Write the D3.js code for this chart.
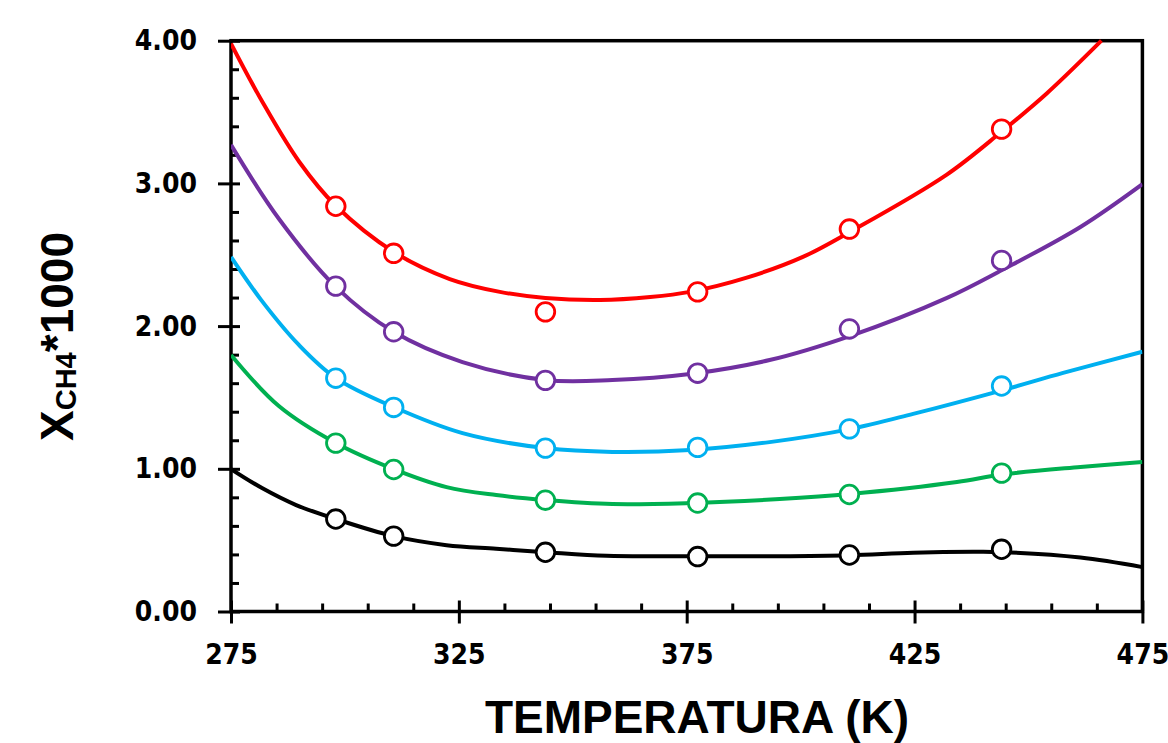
<!DOCTYPE html>
<html>
<head>
<meta charset="utf-8">
<script src="https://cdn.jsdelivr.net/npm/d3@7"></script>
<style>
  html, body { margin: 0; padding: 0; background: #fff; }
  svg { display: block; }
  .tick text { font-family: 'DejaVu Sans Condensed', 'DejaVu Sans', sans-serif; font-stretch: condensed; font-weight: bold; font-size: 28px; fill: #000; }
</style>
</head>
<body>
<svg id="chart" width="1168" height="743"></svg>
<script>
// ---- data ----
const xMajorTicks = [275, 325, 375, 425, 475];
const yMajorTicks = [0, 1, 2, 3, 4];
const pointTemps = [298, 310.7, 344, 377.4, 410.7, 444.1];

const redPoints    = [2.84, 2.51, 2.10, 2.24, 2.68, 3.38];
const purplePoints = [2.28, 1.96, 1.62, 1.67, 1.98, 2.46];
const cyanPoints   = [1.635, 1.43, 1.145, 1.15, 1.28, 1.58];
const greenPoints  = [1.18, 0.995, 0.78, 0.76, 0.82, 0.97];
const blackPoints  = [0.648, 0.528, 0.415, 0.385, 0.396, 0.436];

const redCurve = [[275,3.98],[282,3.565],[290,3.15],[298,2.843],[310.7,2.52],[323,2.33],[334,2.24],[344,2.197],[356,2.183],[367,2.204],[375.7,2.24],[388,2.338],[400.5,2.485],[410.8,2.66],[432,3.06],[444,3.36],[454,3.63],[466,4.0]];
const purpleCurve = [[275,3.27],[285.5,2.752],[298,2.275],[310.7,1.96],[325.8,1.748],[344,1.622],[358.7,1.622],[375.7,1.664],[393.2,1.762],[410.8,1.93],[432,2.196],[444.2,2.393],[461.4,2.695],[475,2.995]];
const cyanCurve = [[275,2.485],[281.6,2.184],[289.9,1.868],[298,1.636],[310.7,1.433],[325.8,1.25],[344,1.145],[358.7,1.118],[375.7,1.131],[393.2,1.187],[410.8,1.278],[424.7,1.385],[444.2,1.55],[457.6,1.672],[475,1.82]];
const greenCurve = [[275,1.798],[285.5,1.44],[298,1.181],[310.7,0.998],[322.3,0.872],[333.2,0.816],[344,0.781],[358.7,0.753],[375.7,0.76],[395.4,0.788],[410.8,0.823],[434.3,0.907],[444.2,0.96],[461.4,1.013],[475,1.048]];
const blackCurve = [[275,0.998],[281.8,0.865],[289.3,0.746],[298,0.648],[310.7,0.528],[322.3,0.465],[333.2,0.44],[344,0.416],[357.4,0.39],[375.7,0.388],[395.4,0.388],[410.8,0.395],[424.7,0.412],[437.9,0.418],[444.2,0.416],[461.4,0.378],[475,0.311]];

const seriesColors = ["#FF0000", "#7030A0", "#00B0F0", "#00B050", "#000000"];
const seriesPoints = [redPoints, purplePoints, cyanPoints, greenPoints, blackPoints];
const seriesCurves = [redCurve, purpleCurve, cyanCurve, greenCurve, blackCurve];

// ---- layout ----
const L = 231, R = 1142.4, T = 40.7, B = 611.5;
const svg = d3.select("#chart");
const x = d3.scaleLinear().domain([275, 475]).range([L, R]);
const y = d3.scaleLinear().domain([0, 4]).range([B, T]);

svg.append("defs").append("clipPath").attr("id", "plotclip")
  .append("rect").attr("x", L).attr("y", T - 2).attr("width", R - L).attr("height", B - T + 2);

// minor ticks
const xMinor = d3.range(285, 475, 10).filter(v => !xMajorTicks.includes(v));
const yMinor = d3.range(0.2, 4, 0.2).filter(v => Math.abs(v - Math.round(v)) > 1e-6);

const axisStroke = 3;
function styleAxis(g) {
  g.selectAll(".domain").remove();
  g.selectAll(".tick line").attr("stroke", "#000").attr("stroke-width", axisStroke);
}

// x axis
svg.append("g").attr("transform", `translate(0,${B})`)
  .call(d3.axisBottom(x).tickValues(xMajorTicks).tickSize(12).tickPadding(21).tickFormat(d3.format("d")))
  .call(styleAxis);
svg.append("g").attr("transform", `translate(0,${B})`)
  .call(d3.axisBottom(x).tickValues(xMajorTicks).tickSize(-11).tickFormat(""))
  .call(styleAxis);
svg.append("g").attr("transform", `translate(0,${B})`)
  .call(d3.axisBottom(x).tickValues(xMinor).tickSize(-8).tickFormat(""))
  .call(styleAxis);

// y axis
svg.append("g").attr("transform", `translate(${L},0)`)
  .call(d3.axisLeft(y).tickValues(yMajorTicks).tickSize(13).tickPadding(21).tickFormat(d3.format(".2f")))
  .call(styleAxis);
svg.append("g").attr("transform", `translate(${L},0)`)
  .call(d3.axisLeft(y).tickValues(yMajorTicks).tickSize(-9).tickFormat(""))
  .call(styleAxis);
svg.append("g").attr("transform", `translate(${L},0)`)
  .call(d3.axisLeft(y).tickValues(yMinor).tickSize(-8).tickFormat(""))
  .call(styleAxis);

// frame
svg.append("rect").attr("x", L).attr("y", T).attr("width", R - L).attr("height", B - T)
  .attr("fill", "none").attr("stroke", "#000").attr("stroke-width", 3.5);

// curves
const line = d3.line().x(d => x(d[0])).y(d => y(d[1])).curve(d3.curveCatmullRom.alpha(0.5));
const plot = svg.append("g").attr("clip-path", "url(#plotclip)");
seriesCurves.forEach((c, i) => {
  plot.append("path").datum(c).attr("d", line)
    .attr("fill", "none").attr("stroke", seriesColors[i]).attr("stroke-width", 4)
    .attr("stroke-linejoin", "round").attr("stroke-linecap", "butt");
});

// markers
seriesPoints.forEach((pts, i) => {
  svg.append("g").selectAll("circle").data(pts).join("circle")
    .attr("cx", (d, j) => x(pointTemps[j])).attr("cy", d => y(d)).attr("r", 9.3)
    .attr("fill", "#fff").attr("stroke", seriesColors[i]).attr("stroke-width", 2.8);
});

// axis titles
svg.append("text").attr("x", 697).attr("y", 733).attr("text-anchor", "middle")
  .attr("font-family", "'Liberation Sans', Arial, sans-serif").attr("font-weight", "bold")
  .attr("font-size", 46).text("TEMPERATURA (K)");

const yt = svg.append("text").attr("transform", "translate(73,336.5) rotate(-90)")
  .attr("text-anchor", "middle")
  .attr("font-family", "'Liberation Sans', Arial, sans-serif").attr("font-weight", "bold")
  .attr("font-size", 46);
yt.append("tspan").text("X");
yt.append("tspan").attr("font-size", 29).attr("dy", 3).text("CH4");
yt.append("tspan").attr("dy", -3).text("*1000");
</script>
</body>
</html>
